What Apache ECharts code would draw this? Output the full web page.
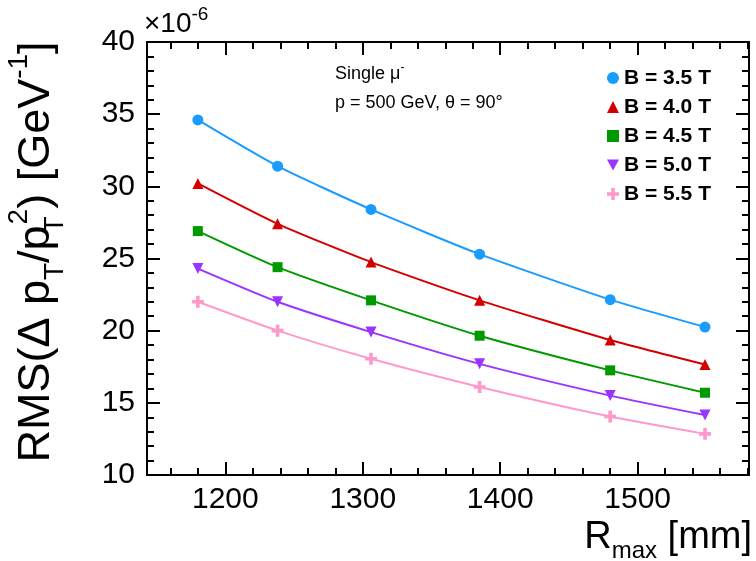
<!DOCTYPE html>
<html>
<head>
<meta charset="utf-8">
<script src="https://cdn.jsdelivr.net/npm/echarts@6/dist/echarts.min.js"></script>
<style>
html,body{margin:0;padding:0;background:#fff;}
#chart{width:756px;height:561px;}
</style>
</head>
<body>
<div id="chart"></div>
<script>
// ---- data ----
const seriesNames = ['B = 3.5 T', 'B = 4.0 T', 'B = 4.5 T', 'B = 5.0 T', 'B = 5.5 T'];
const rmax = [1180, 1238, 1306, 1385, 1480, 1549];
const b35 = [34.6, 31.4, 28.4, 25.3, 22.15, 20.25];
const b40 = [30.2, 27.4, 24.75, 22.1, 19.35, 17.65];
const b45 = [26.9, 24.4, 22.1, 19.65, 17.25, 15.7];
const b50 = [24.3, 22.0, 19.9, 17.7, 15.5, 14.15];
const b55 = [22.0, 20.0, 18.05, 16.1, 14.05, 12.85];
const xMajorTicks = [1200, 1300, 1400, 1500];
const xMinorTicks = [1160, 1180, 1220, 1240, 1260, 1280, 1320, 1340, 1360, 1380, 1420, 1440, 1460, 1480, 1520, 1540, 1560, 1580];
const yMajorTicks = [10, 15, 20, 25, 30, 35, 40];
const yMinorTicks = [11, 12, 13, 14, 16, 17, 18, 19, 21, 22, 23, 24, 26, 27, 28, 29, 31, 32, 33, 34, 36, 37, 38, 39];

const FONT = 'Liberation Sans, Arial, Helvetica, sans-serif';
const colors = ['#1a9cff', '#d40000', '#009a00', '#9a34ff', '#ff99cc'];
const symbols = ['circle', 'triangle', 'rect', 'triangle', 'path://M3.5,0H6.5V3.5H10V6.5H6.5V10H3.5V6.5H0V3.5H3.5Z'];
const rotates = [0, 0, 0, 180, 0];
const sizes = [11, 11, 10, 11, 12];
const legendIcons = ['circle', 'triangle', 'rect', 'path://M0,0L10,0L5,9Z', 'path://M3.5,0H6.5V3.5H10V6.5H6.5V10H3.5V6.5H0V3.5H3.5Z'];
const allData = [b35, b40, b45, b50, b55];

const xMin = 1143, xMax = 1581, yMin = 10, yMax = 40;

function xAxisDef(pos, ticks, len, showLine, labels) {
  return {
    type: 'value', position: pos, min: xMin, max: xMax,
    axisLine: {show: showLine, onZero: false, lineStyle: {color: '#000', width: 2}},
    axisTick: {show: true, inside: true, length: len, customValues: ticks, lineStyle: {color: '#000', width: 2}},
    axisLabel: labels ? {show: true, customValues: xMajorTicks, margin: 10, fontSize: 30, color: '#000', fontFamily: FONT,
      formatter: v => String(v)} : {show: false},
    splitLine: {show: false}
  };
}
function yAxisDef(pos, ticks, len, showLine, labels) {
  return {
    type: 'value', position: pos, min: yMin, max: yMax,
    axisLine: {show: showLine, onZero: false, lineStyle: {color: '#000', width: 2}},
    axisTick: {show: true, inside: true, length: len, customValues: ticks, lineStyle: {color: '#000', width: 2}},
    axisLabel: labels ? {show: true, customValues: yMajorTicks, margin: 12, fontSize: 30, color: '#000', fontFamily: FONT,
      formatter: v => String(v)} : {show: false},
    splitLine: {show: false}
  };
}

const chart = echarts.init(document.getElementById('chart'));
const option = {
  animation: false,
  backgroundColor: '#fff',
  grid: {left: 147, right: 7, top: 42, bottom: 86, containLabel: false},
  xAxis: [
    xAxisDef('bottom', xMajorTicks, 13, true, true),
    xAxisDef('bottom', xMinorTicks, 7, false, false),
    xAxisDef('top', xMajorTicks, 13, true, false),
    xAxisDef('top', xMinorTicks, 7, false, false)
  ],
  yAxis: [
    yAxisDef('left', yMajorTicks, 13, true, true),
    yAxisDef('left', yMinorTicks, 7, false, false),
    yAxisDef('right', yMajorTicks, 13, true, false),
    yAxisDef('right', yMinorTicks, 7, false, false)
  ],
  legend: {
    orient: 'vertical', left: 602, top: 62,
    itemWidth: 12, itemHeight: 12, itemGap: 7,
    textStyle: {fontSize: 21, fontWeight: 'bold', color: '#000', fontFamily: FONT, lineHeight: 22},
    data: seriesNames.map((n, i) => ({name: n, icon: legendIcons[i]}))
  },
  series: seriesNames.map((n, i) => ({
    name: n, type: 'line', xAxisIndex: 0, yAxisIndex: 0,
    data: rmax.map((x, j) => [x, allData[i][j]]),
    smooth: 0.2,
    symbol: symbols[i], symbolSize: sizes[i], symbolRotate: rotates[i],
    showAllSymbol: true,
    lineStyle: {color: colors[i], width: 2},
    itemStyle: {color: colors[i], borderWidth: 0}
  })),
  graphic: [
    {
      type: 'text', x: 37, y: 252, rotation: Math.PI / 2,
      style: {
        text: '{m|RMS(Δ p}{s|T}{m|/p}{sw|T}{p|2}{m|) [GeV}{p|-1}{m|]}',
        fill: '#000', align: 'center', verticalAlign: 'middle', fontFamily: FONT,
        rich: {
          m: {fontSize: 45, lineHeight: 64, verticalAlign: 'middle', fontFamily: FONT},
          s: {fontSize: 28, lineHeight: 30, verticalAlign: 'bottom', fontFamily: FONT},
          sw: {fontSize: 28, lineHeight: 30, verticalAlign: 'bottom', fontFamily: FONT, width: 1},
          p: {fontSize: 28, lineHeight: 30, verticalAlign: 'top', fontFamily: FONT}
        }
      }
    },
    {
      type: 'text', x: 752, y: 538,
      style: {
        text: '{m|R}{s|max}{m| [mm]}',
        fill: '#000', align: 'right', verticalAlign: 'middle', fontFamily: FONT,
        rich: {
          m: {fontSize: 38, lineHeight: 50, verticalAlign: 'middle', fontFamily: FONT},
          s: {fontSize: 24, lineHeight: 26, verticalAlign: 'bottom', fontFamily: FONT}
        }
      }
    },
    {
      type: 'text', x: 144, y: 24,
      style: {
        text: '{m|×10}{p|-6}',
        fill: '#000', align: 'left', verticalAlign: 'middle', fontFamily: FONT,
        rich: {
          m: {fontSize: 28, lineHeight: 38, verticalAlign: 'middle', fontFamily: FONT},
          p: {fontSize: 19, lineHeight: 21, verticalAlign: 'top', fontFamily: FONT}
        }
      }
    },
    {
      type: 'text', x: 335, y: 74,
      style: {
        text: '{m|Single μ}{p|-}',
        fill: '#000', align: 'left', verticalAlign: 'middle', fontFamily: FONT,
        rich: {
          m: {fontSize: 18, lineHeight: 24, verticalAlign: 'middle', fontFamily: FONT},
          p: {fontSize: 12, lineHeight: 14, verticalAlign: 'top', fontFamily: FONT}
        }
      }
    },
    {
      type: 'text', x: 335, y: 103,
      style: {
        text: 'p = 500 GeV, θ = 90°',
        fill: '#000', align: 'left', verticalAlign: 'middle', fontSize: 18, fontFamily: FONT
      }
    }
  ]
};
chart.setOption(option);
</script>
</body>
</html>
